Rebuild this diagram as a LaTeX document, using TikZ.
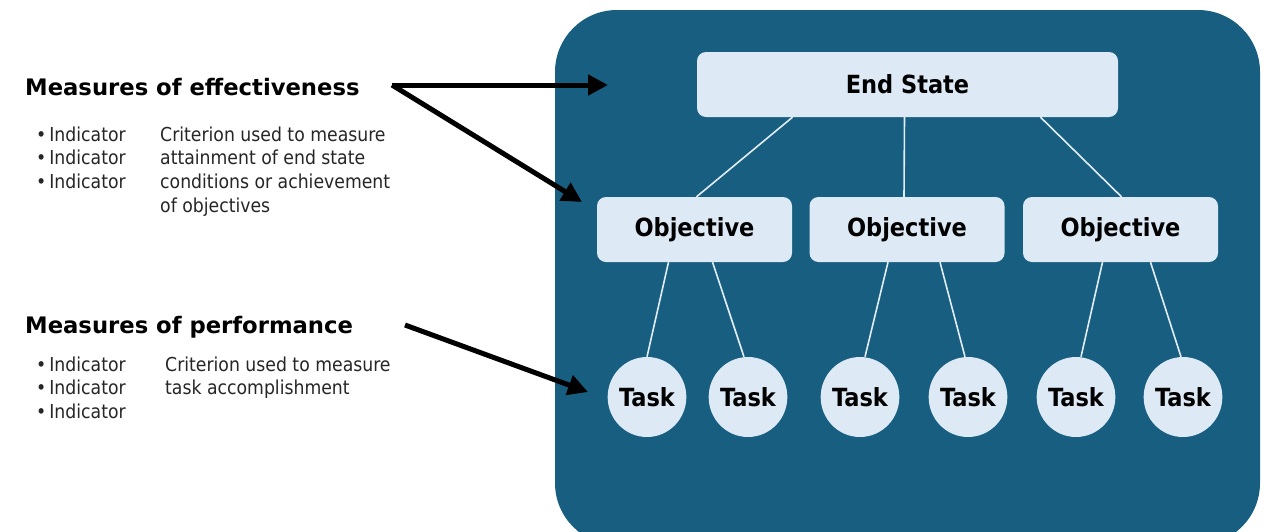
\documentclass[tikz,border=0pt]{standalone}
\usepackage{fontspec}
\setmainfont{DejaVu Sans}
\newfontfamily\cond{DejaVu Sans Condensed}
\usetikzlibrary{shapes.geometric,arrows.meta}
\definecolor{panel}{HTML}{175E80}
\definecolor{boxfill}{HTML}{DDEAF6}
\definecolor{edgecol}{HTML}{E2EDF6}
\tikzset{
  heading/.style={anchor=base west, inner sep=0pt, font=\fontsize{22.7}{27}\selectfont\bfseries},
  small/.style={anchor=base west, inner sep=0pt, font=\cond\fontsize{19.2}{24}\selectfont, text=black!85},
  rbox/.style={draw=none, fill=boxfill, rounded corners=9pt, minimum height=65pt, inner sep=0pt,
    font=\cond\fontsize{25}{30}\selectfont\bfseries},
  taskc/.style={ellipse, fill=boxfill, minimum width=76pt, minimum height=80pt, inner sep=0pt,
    font=\cond\fontsize{25}{30}\selectfont\bfseries},
  tree/.style={draw=edgecol, line width=1.6pt},
  bigarrow/.style={draw=black, line width=5pt, -{Triangle[length=20pt,width=20pt]}}
}
\begin{document}
\begin{tikzpicture}[x=1pt,y=-1pt]
\useasboundingbox (0,0) rectangle (1267,531);
\fill[white] (0,0) rectangle (1267,531);
% panel
\fill[panel, rounded corners=62pt] (555,10) rectangle (1260,545);
% nodes
\node[rbox, minimum width=421pt] (es) at (907.5,84.5) {End State};
\node[rbox, minimum width=195pt] (o1) at (694.5,229.5) {Objective};
\node[rbox, minimum width=195pt] (o2) at (907,229.5) {Objective};
\node[rbox, minimum width=195pt] (o3) at (1120.5,229.5) {Objective};
\node[taskc] (t1) at (647,397) {Task};
\node[taskc] (t2) at (748,397) {Task};
\node[taskc] (t3) at (860,397) {Task};
\node[taskc] (t4) at (968,397) {Task};
\node[taskc] (t5) at (1076,397) {Task};
\node[taskc] (t6) at (1183,397) {Task};
% tree edges
\draw[tree] ([xshift=-115pt]es.south) -- ([xshift=2pt]o1.north);
\draw[tree] ([xshift=-3pt]es.south) -- ([xshift=-3pt]o2.north);
\draw[tree] ([xshift=133pt]es.south) -- ([xshift=1pt]o3.north);
\draw[tree] ([xshift=-26pt]o1.south) -- (t1.north);
\draw[tree] ([xshift=18pt]o1.south) -- ([xshift=-4pt]t2.north);
\draw[tree] ([xshift=-19pt]o2.south) -- ([xshift=5pt]t3.north);
\draw[tree] ([xshift=33pt]o2.south) -- ([xshift=-3pt]t4.north);
\draw[tree] ([xshift=-18pt]o3.south) -- ([xshift=5pt]t5.north);
\draw[tree] ([xshift=30pt]o3.south) -- ([xshift=-2pt]t6.north);
% left texts
\node[heading] (moe) at (25,95) {Measures of effectiveness};
\node[small] (i1) at (36,141) {•\hspace{3pt}Indicator};
\node[small] (i2) at (36,164) {•\hspace{3pt}Indicator};
\node[small] (i3) at (36,188) {•\hspace{3pt}Indicator};
\node[small] (c1) at (160,141) {Criterion used to measure};
\node[small] (c2) at (160,164) {attainment of end state};
\node[small] (c3) at (160,188) {conditions or achievement};
\node[small] (c4) at (160,212) {of objectives};
\node[heading] (mop) at (25,333) {Measures of performance};
\node[small] (j1) at (36,371) {•\hspace{3pt}Indicator};
\node[small] (j2) at (36,394) {•\hspace{3pt}Indicator};
\node[small] (j3) at (36,418) {•\hspace{3pt}Indicator};
\node[small] (d1) at (165,371) {Criterion used to measure};
\node[small] (d2) at (165,394) {task accomplishment};
% arrows
\coordinate (a0) at (392,85);
\coordinate (a1) at (608,85);
\coordinate (a2) at (582,202);
\coordinate (b0) at (405,325);
\coordinate (b1) at (588,392);
\draw[bigarrow] (a0) -- (a1);
\draw[bigarrow] (a0) -- (a2);
\draw[bigarrow] (b0) -- (b1);
\end{tikzpicture}
\end{document}
